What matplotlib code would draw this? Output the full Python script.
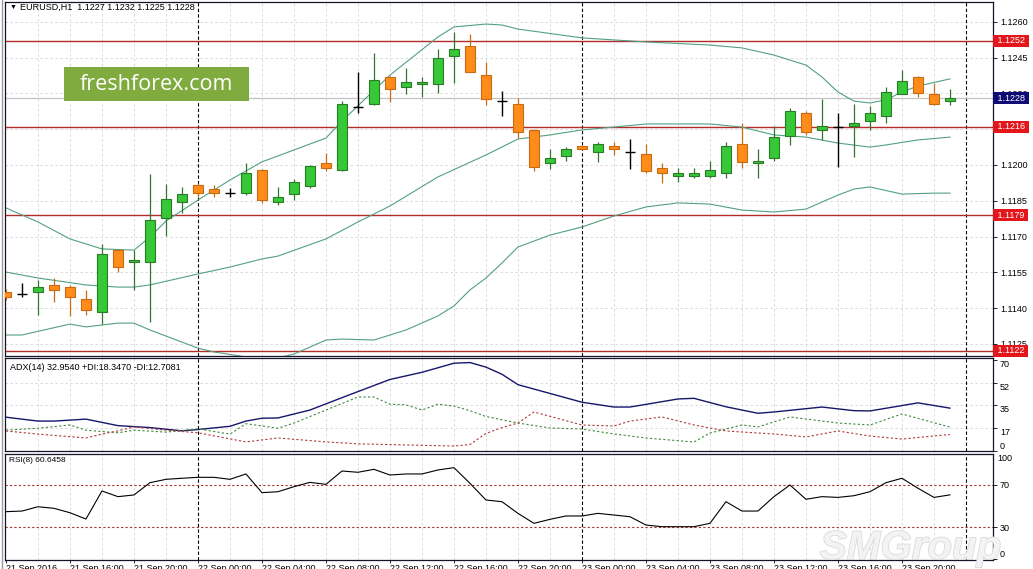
import matplotlib
matplotlib.use('Agg')
import matplotlib.pyplot as plt
import matplotlib.transforms as mtransforms
import matplotlib.patheffects as pe
from matplotlib.patches import Rectangle

plt.rcParams['font.family'] = ['Liberation Sans', 'DejaVu Sans']

# EURUSD H1, 21 Sep 2016 12:00 .. 23 Sep 2016 23:00 (one entry per bar)
opens = [1.11468, 1.11459, 1.11468, 1.11497, 1.11489, 1.11438, 1.11384, 1.11644, 1.11593, 1.11593,
         1.11778, 1.11845, 1.11916, 1.11899, 1.11882, 1.11882, 1.11979, 1.11845, 1.11878, 1.11912,
         1.12008, 1.11979, 1.12243, 1.12256, 1.12369, 1.12327, 1.12340, 1.12340, 1.12457, 1.12499,
         1.12377, 1.12268, 1.12256, 1.12147, 1.12008, 1.12038, 1.12080, 1.12055, 1.12080, 1.12055,
         1.12046, 1.11987, 1.11954, 1.11954, 1.11954, 1.11966, 1.12088, 1.12008, 1.12029, 1.12122,
         1.12218, 1.12147, 1.12159, 1.12164, 1.12185, 1.12206, 1.12298, 1.12369, 1.12298, 1.12270]
highs = [1.11480, 1.11505, 1.11518, 1.11526, 1.11497, 1.11476, 1.11669, 1.11648, 1.11644, 1.11962,
         1.11920, 1.11907, 1.11924, 1.11916, 1.11903, 1.12008, 1.11983, 1.11907, 1.11941, 1.11998,
         1.12050, 1.12268, 1.12390, 1.12470, 1.12372, 1.12407, 1.12369, 1.12486, 1.12558, 1.12549,
         1.12432, 1.12310, 1.12281, 1.12150, 1.12067, 1.12075, 1.12084, 1.12097, 1.12097, 1.12109,
         1.12088, 1.12008, 1.11987, 1.11987, 1.12017, 1.12097, 1.12176, 1.12067, 1.12164, 1.12239,
         1.12227, 1.12277, 1.12218, 1.12256, 1.12248, 1.12327, 1.12398, 1.12372, 1.12344, 1.12320]
lows = [1.11434, 1.11447, 1.11371, 1.11426, 1.11367, 1.11371, 1.11333, 1.11551, 1.11476, 1.11342,
        1.11702, 1.11799, 1.11866, 1.11866, 1.11866, 1.11874, 1.11840, 1.11832, 1.11853, 1.11903,
        1.11975, 1.11975, 1.12218, 1.12253, 1.12264, 1.12298, 1.12285, 1.12302, 1.12344, 1.12388,
        1.12252, 1.12205, 1.12113, 1.11975, 1.11983, 1.12017, 1.12063, 1.12013, 1.12042, 1.11983,
        1.11966, 1.11924, 1.11929, 1.11945, 1.11945, 1.11945, 1.11987, 1.11945, 1.12017, 1.12084,
        1.12126, 1.12105, 1.11992, 1.12034, 1.12147, 1.12176, 1.12298, 1.12285, 1.12253, 1.12250]
closes = [1.11447, 1.11459, 1.11489, 1.11476, 1.11447, 1.11392, 1.11627, 1.11572, 1.11602, 1.11769,
          1.11857, 1.11878, 1.11882, 1.11882, 1.11882, 1.11966, 1.11853, 1.11866, 1.11929, 1.11996,
          1.11987, 1.12256, 1.12243, 1.12356, 1.12319, 1.12348, 1.12348, 1.12449, 1.12486, 1.12390,
          1.12277, 1.12268, 1.12138, 1.11992, 1.12029, 1.12067, 1.12067, 1.12088, 1.12067, 1.12055,
          1.11975, 1.11966, 1.11966, 1.11966, 1.11979, 1.12080, 1.12013, 1.12017, 1.12117, 1.12227,
          1.12138, 1.12164, 1.12159, 1.12176, 1.12218, 1.12306, 1.12352, 1.12302, 1.12256, 1.12280]

# Bollinger bands, read at bar indices
bb_up_idx = [0, 2, 4, 6, 8, 9, 10, 12, 14, 16, 20, 21, 24, 27, 28, 30, 31, 32, 36, 40,
             44, 46, 48, 50, 51, 52, 53, 54, 55, 56, 57, 59]
bb_up = [1.11820, 1.11761, 1.11690, 1.11648, 1.11643, 1.11698, 1.11765, 1.11853, 1.11937, 1.12013,
         1.12113, 1.12184, 1.12377, 1.12537, 1.12579, 1.12591, 1.12587, 1.12570, 1.12533, 1.12516,
         1.12503, 1.12491, 1.12461, 1.12419, 1.12369, 1.12306, 1.12268, 1.12260, 1.12273, 1.12306,
         1.12331, 1.12361]
bb_mid_idx = [0, 2, 5, 7, 8, 9, 12, 14, 16, 17, 20, 22, 24, 27, 30, 32, 34, 36, 38, 40,
              44, 46, 48, 50, 52, 54, 55, 57, 59]
bb_mid = [1.11551, 1.11526, 1.11497, 1.11488, 1.11488, 1.11497, 1.11543, 1.11572, 1.11606, 1.11618,
          1.11690, 1.11761, 1.11828, 1.11950, 1.12042, 1.12109, 1.12126, 1.12147, 1.12159, 1.12172,
          1.12172, 1.12159, 1.12126, 1.12117, 1.12092, 1.12075, 1.12084, 1.12105, 1.12117]
bb_low_idx = [0, 1, 4, 5, 7, 8, 9, 12, 13, 15, 17, 18, 20, 21, 23, 25, 27, 28, 29, 30,
              31, 32, 33, 34, 36, 38, 40, 42, 44, 46, 48, 50, 52, 53, 54, 56, 58, 59]
bb_low = [1.11287, 1.11287, 1.11333, 1.11321, 1.11337, 1.11337, 1.11308, 1.11232, 1.11216, 1.11195,
          1.11191, 1.11207, 1.11266, 1.11270, 1.11266, 1.11308, 1.11367, 1.11409, 1.11476, 1.11526,
          1.11589, 1.11656, 1.11681, 1.11706, 1.11740, 1.11786, 1.11824, 1.11841, 1.11836, 1.11811,
          1.11803, 1.11815, 1.11874, 1.11899, 1.11908, 1.11878, 1.11882, 1.11882]

levels = [1.1252, 1.1216, 1.1179, 1.1122]
last_price = 1.1228
price_ticks = [1.1260, 1.1245, 1.1230, 1.1215, 1.1200, 1.1185, 1.1170, 1.1155, 1.1140, 1.1125]

# ADX(14)
adx_idx = [0, 2, 3, 5, 7, 9, 11, 12, 14, 15, 16, 17, 19, 21, 24, 26, 28, 29, 30, 31, 32, 36,
           38, 39, 42, 43, 45, 47, 48, 51, 53, 54, 57, 59]
adx = [26, 23, 23, 24.5, 19.5, 18, 15.5, 16.5, 19, 23, 25.2, 25.4, 31.5, 41, 55, 60.5, 67.5, 68,
       64.5, 59, 51, 37.5, 33.8, 33.8, 40, 40.5, 34, 29, 30, 33.8, 31, 30.8, 37, 32.95]
pdi_idx = [0, 2, 4, 5, 7, 8, 10, 12, 14, 15, 17, 18, 20, 22, 23, 24, 25, 26, 27, 28, 29, 30,
           32, 34, 36, 38, 40, 43, 44, 46, 47, 49, 50, 52, 54, 56, 59]
pdi = [16, 17.5, 20, 16, 14, 16, 14.5, 17, 13, 21, 17.5, 21.5, 31.5, 41.5, 41.5, 36, 35.5, 31.5,
       36, 34.5, 31, 26.5, 21.5, 17.7, 16.9, 13.1, 10, 6.9, 13.8, 20, 18.5, 26.2, 24.6, 21.5, 20,
       28.5, 18.35]
mdi_idx = [0, 2, 5, 6, 7, 8, 10, 12, 15, 17, 20, 22, 28, 29, 30, 31, 32, 33, 36, 38, 39, 41, 43,
           45, 46, 48, 50, 52, 54, 56, 59]
mdi = [15.4, 13, 10, 13, 15.5, 18.5, 16, 14, 7, 10, 7, 5.5, 3.8, 5, 13.5, 18, 21.5, 30, 20, 19.2,
       23, 26.2, 20, 15.4, 14.6, 13.1, 10.8, 15.4, 11.5, 9.2, 12.7]

# RSI(8)
rsi = [44.6, 45.2, 49.3, 47.8, 43.6, 37.6, 64.3, 58.9, 60.5, 72.2,
       75.4, 76.4, 77.3, 77.3, 75.4, 80.5, 62.7, 63.6, 68.4, 72.5,
       70.6, 83.3, 82.1, 84.9, 79.5, 80.5, 80.5, 84.3, 86.5, 71.6,
       55.7, 54.1, 43.0, 33.5, 37.3, 40.5, 40.5, 43.0, 41.4, 39.8,
       31.9, 30.3, 30.3, 30.3, 33.5, 54.1, 45.2, 45.2, 58.9, 70.0,
       56.4, 58.9, 58.2, 59.8, 63.6, 72.2, 76.4, 66.9, 58.2, 60.6]

x_label_idx = [0, 4, 8, 12, 16, 20, 24, 28, 32, 36, 40, 44, 48, 52, 56]
x_labels = ['21 Sep 2016', '21 Sep 16:00', '21 Sep 20:00', '22 Sep 00:00', '22 Sep 04:00',
            '22 Sep 08:00', '22 Sep 12:00', '22 Sep 16:00', '22 Sep 20:00', '23 Sep 00:00',
            '23 Sep 04:00', '23 Sep 08:00', '23 Sep 12:00', '23 Sep 16:00', '23 Sep 20:00']
sep_idx = [12, 36, 60]

W, H = 1033, 569


def px_box(x0, y0, x1, y1):
    return [x0 / W, 1 - y1 / H, (x1 - x0) / W, (y1 - y0) / H]


fig = plt.figure(figsize=(W / 100, H / 100), dpi=100)
ax1 = fig.add_axes(px_box(5, 2, 993, 356))
ax2 = fig.add_axes(px_box(5, 358, 993, 451), sharex=ax1)
ax3 = fig.add_axes(px_box(5, 454, 993, 560), sharex=ax1)

grid_c = '#d4d4d4'
for ax in (ax1, ax2, ax3):
    for i in range(2, 62, 2):
        if i not in sep_idx:
            ax.axvline(i, color=grid_c, lw=0.6, ls=(0, (3, 3)), zorder=0)
    for i in sep_idx:
        ax.axvline(i, color='black', lw=0.8, ls=(0, (3, 2)), zorder=1)
    for s in ax.spines.values():
        s.set_color('#14142a')
        s.set_linewidth(0.9)
    ax.yaxis.tick_right()
    ax.tick_params(axis='y', direction='out', length=3, width=0.6, pad=2, labelsize=6.5)

ax1.set_xlim(-0.06, 61.69)

# main chart
ax1.set_ylim(1.11199, 1.126835)
ax1.set_yticks(price_ticks)
ax1.set_yticklabels([f'{p:.4f}' for p in price_ticks])
for p in price_ticks:
    ax1.axhline(p, color=grid_c, lw=0.6, ls=(0, (3, 3)), zorder=0)

ax1.axhline(last_price, color='#c4c4c4', lw=0.9, zorder=1)
for lv in levels:
    ax1.axhline(lv, color='#b52a2a', lw=1.0, zorder=2)

bb_c = '#52a083'
ax1.plot(bb_up_idx, bb_up, color=bb_c, lw=0.8, zorder=2)
ax1.plot(bb_mid_idx, bb_mid, color=bb_c, lw=0.8, zorder=2)
ax1.plot(bb_low_idx, bb_low, color=bb_c, lw=0.8, zorder=2)

up_fill, up_edge = '#36c836', '#2a7a2a'
dn_fill, dn_edge = '#ff8c1a', '#c86a10'
for i in range(len(opens)):
    o, h, l, c = opens[i], highs[i], lows[i], closes[i]
    if c == o:
        ax1.vlines(i, l, h, color='black', lw=1.0, zorder=3)
        ax1.hlines(c, i - 0.33, i + 0.33, color='black', lw=1.0, zorder=3)
        continue
    fill, edge = (up_fill, up_edge) if c > o else (dn_fill, dn_edge)
    ax1.vlines(i, l, h, color=edge, lw=0.9, zorder=3)
    ax1.bar(i, max(abs(c - o), 0.00004), bottom=min(o, c), width=0.64,
            color=fill, edgecolor=edge, linewidth=0.8, zorder=4)

trans1 = mtransforms.blended_transform_factory(ax1.transAxes, ax1.transData)
for lv in levels:
    ax1.text(1.002, lv, f' {lv:.4f} ', transform=trans1, ha='left', va='center',
             fontsize=6.5, color='white', clip_on=False, zorder=10,
             bbox=dict(boxstyle='square,pad=0.18', fc='#e3171b', ec='none'))
ax1.text(1.002, last_price, f' {last_price:.4f} ', transform=trans1, ha='left', va='center',
         fontsize=6.5, color='white', clip_on=False, zorder=10,
         bbox=dict(boxstyle='square,pad=0.18', fc='#0c0c74', ec='none'))

# ADX panel
ax2.set_ylim(0, 71.5)
ax2.set_yticks([0, 17.5, 35, 52.5, 70])
ax2.set_yticklabels(['0', '17', '35', '52', '70'])
for t in ax2.yaxis.get_major_ticks():
    t.label2.set_va('top')
ax2.yaxis.get_major_ticks()[0].label2.set_va('bottom')
for v in (17.5, 35, 52.5):
    ax2.axhline(v, color=grid_c, lw=0.6, ls=(0, (3, 3)), zorder=0)
ax2.plot(adx_idx, adx, color='#16166a', lw=1.0, zorder=3)
ax2.plot(pdi_idx, pdi, color='#3f8a3f', lw=0.8, ls=(0, (2, 2)), zorder=3)
ax2.plot(mdi_idx, mdi, color='#b03a3a', lw=0.8, ls=(0, (2, 2)), zorder=3)

# RSI panel
ax3.set_ylim(-1.4, 99.5)
ax3.set_yticks([0, 30, 70])
ax3.set_yticklabels(['0', '30', '70'])
ax3.yaxis.get_major_ticks()[0].label2.set_va('bottom')
ax3.text(1.004, 1.0, '100', transform=ax3.transAxes, ha='left', va='top', fontsize=6.5)
for v in (30, 70):
    ax3.axhline(v, color='#a8322c', lw=0.8, ls=(0, (2, 2)), zorder=1)
ax3.plot(range(len(rsi)), rsi, color='black', lw=0.8, zorder=3)

ax3.set_xticks(x_label_idx)
ax3.set_xticklabels(x_labels, ha='left')
ax3.tick_params(axis='x', direction='out', length=2, width=0.6, pad=1, labelsize=6.5)
for ax in (ax1, ax2):
    ax.tick_params(axis='x', bottom=False, labelbottom=False)

# left frame of the terminal window
fig.add_artist(plt.Line2D([1.5 / W, 1.5 / W], [0, 1], transform=fig.transFigure,
                          color='#9a9a9a', lw=1.0))

# header texts
fig.text(10 / W, 1 - 7 / H, '\u25bc', fontsize=5, va='center', ha='left')
fig.text(20 / W, 1 - 7 / H, 'EURUSD,H1  1.1227 1.1232 1.1225 1.1228',
         fontsize=6.5, va='center', ha='left')
fig.text(10 / W, 1 - 368 / H, 'ADX(14) 32.9540 +DI:18.3470 -DI:12.7081',
         fontsize=6.5, va='center', ha='left')
fig.text(9 / W, 1 - 461 / H, 'RSI(8) 60.6458', fontsize=6, va='center', ha='left')

# watermarks
fig.patches.append(Rectangle((64 / W, 1 - 101 / H), 185 / W, 34 / H,
                             transform=fig.transFigure, facecolor='#80ab3e',
                             edgecolor='none', zorder=5))
fig.text(156 / W, 1 - 84 / H, 'freshforex.com', fontsize=15.5, family='Open Sans',
         color='white', ha='center', va='center', zorder=6)
fig.text(820 / W, 1 - 559 / H, 'SMGroup', fontsize=29, fontweight='bold', style='italic',
         color='#f3f3f3', ha='left', va='baseline', zorder=6,
         path_effects=[pe.withStroke(linewidth=1.0, foreground='#d6d6d6')])

fig.savefig('out.png', dpi=100)
